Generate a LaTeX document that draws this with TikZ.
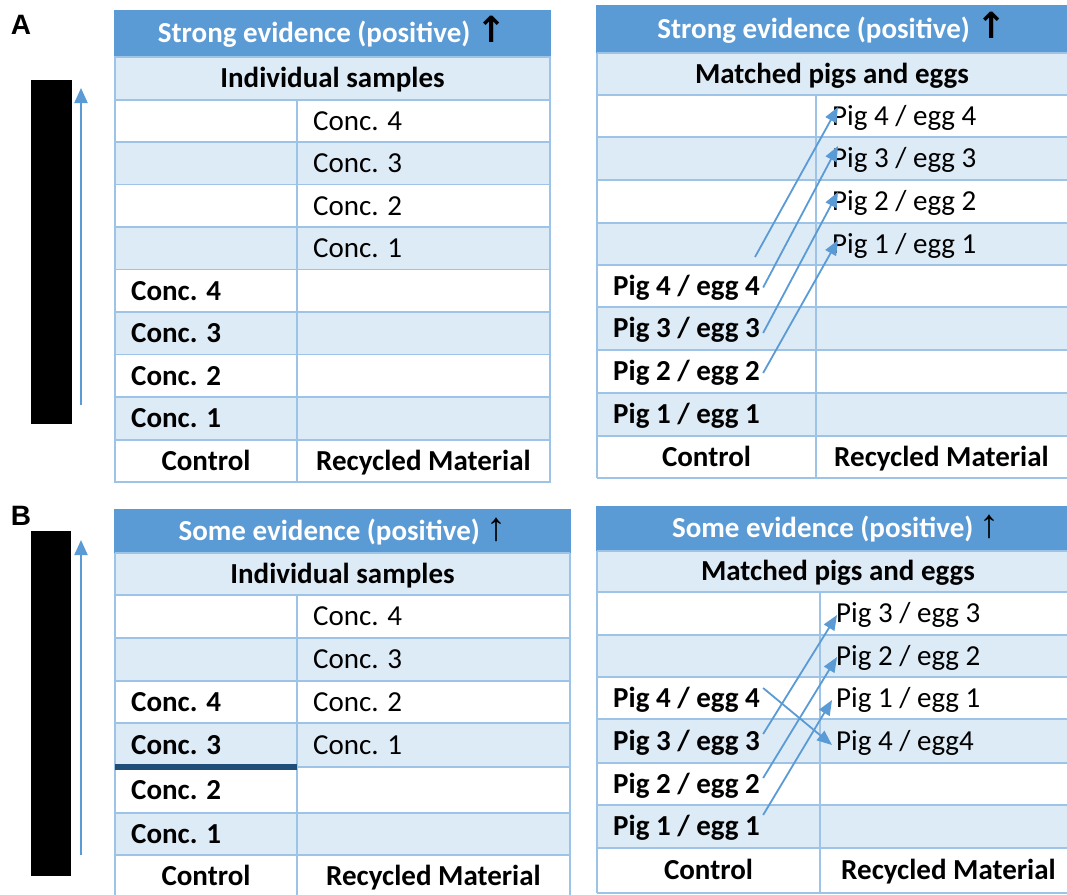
\documentclass[tikz,border=0pt]{standalone}
\usepackage{fontspec}
\setmainfont{Carlito}
\newfontfamily\arrfont{DejaVu Sans}
\newfontfamily\lblfont{Liberation Sans}
\usetikzlibrary{arrows.meta,calc}
\definecolor{hdrblue}{HTML}{5B9BD5}
\definecolor{rowshade}{HTML}{DDEBF7}
\definecolor{gridblue}{HTML}{9DC3E6}
\definecolor{darkblue}{HTML}{1F4E79}
\definecolor{arrblue}{HTML}{5B9BD5}
\newcommand\upA{{\color{black}\fontsize{36}{30}\selectfont\arrfont\bfseries ↑}}
\newcommand\upB{{\color{black}\fontsize{40}{30}\selectfont\lblfont ↑}}
\tikzset{
  cell/.style={inner sep=0pt, text=black, font=\fontsize{29}{32}\selectfont},
  lt/.style={cell, anchor=base west},
  blt/.style={cell, anchor=base west, font=\fontsize{29}{32}\selectfont\bfseries},
  ct/.style={cell, anchor=base, font=\fontsize{29}{32}\selectfont\bfseries},
  hd/.style={cell, anchor=base, text=white, font=\fontsize{29}{32}\selectfont\bfseries},
  panel/.style={inner sep=0pt, anchor=center, font=\fontsize{28}{30}\selectfont\lblfont\bfseries},
  gridline/.style={draw=gridblue, line width=1.6pt},
  link/.style={draw=arrblue, line width=1.8pt, -{Triangle[length=15pt,width=12pt]}},
  scalearrow/.style={draw=arrblue, line width=2pt, -{Triangle[length=15pt,width=13pt]}},
  bar/.style={fill=black}
}
\begin{document}
\begin{tikzpicture}[x=1pt,y=-1pt]
\useasboundingbox (0,0) rectangle (1067,894);
\fill[white] (0,0) rectangle (1067,894);

% ---------------- panel labels, bars and scale arrows
\node[panel] (lblA) at (21,25) {A};
\node[panel] (lblB) at (21,516) {B};
\fill[bar] (31,80) rectangle (72,424);
\fill[bar] (31,531) rectangle (71,876);
\coordinate (sAt) at (81,405);
\coordinate (sAh) at (81,88);
\coordinate (sBt) at (81,855);
\coordinate (sBh) at (81,540);
\draw[scalearrow] (sAt) -- (sAh);
\draw[scalearrow] (sBt) -- (sBh);

% ================= A left table
\fill[hdrblue] (114,10) rectangle (551,57);
\fill[rowshade] (115,57) rectangle (550,100);
\foreach \a/\b in {142/184.5,227/269.5,312/354.5,397/440}
  \fill[rowshade] (115,\a) rectangle (550,\b);
\foreach \y in {57,100,142,184.5,227,269.5,312,354.5,397,440}
  \draw[gridline] (115,\y) -- (550,\y);
\draw[gridline] (297,100) -- (297,482);
\draw[gridline] (115,57) rectangle (550,482);
\node[hd] (hAL) at (332.5,42.5) {Strong evidence (positive) \upA};
\node[ct] (sAL) at (332.5,87.5) {Individual samples};
\node[lt] (alr4) at (313,130) {Conc. 4};
\node[lt] (alr3) at (313,172.5) {Conc. 3};
\node[lt] (alr2) at (313,215) {Conc. 2};
\node[lt] (alr1) at (313,257.5) {Conc. 1};
\node[blt] (all4) at (131,300) {Conc. 4};
\node[blt] (all3) at (131,342.5) {Conc. 3};
\node[blt] (all2) at (131,385) {Conc. 2};
\node[blt] (all1) at (131,427.5) {Conc. 1};
\node[ct] (ctAL) at (206,470) {Control};
\node[ct] (rmAL) at (423.5,470) {Recycled Material};

% ================= A right table
\fill[hdrblue] (596,5) rectangle (1070,53);
\fill[rowshade] (597,53) rectangle (1070,95);
\foreach \a/\b in {137/180,223/265,307/350,393/436}
  \fill[rowshade] (597,\a) rectangle (1070,\b);
\foreach \y in {53,95,137,180,223,265,307,350,393,436,478}
  \draw[gridline] (597,\y) -- (1070,\y);
\draw[gridline] (816,95) -- (816,478);
\draw[gridline] (597,53) -- (597,478);
\node[hd] (hAR) at (832,38) {Strong evidence (positive) \upA};
\node[ct] (sAR) at (832,83) {Matched pigs and eggs};
\node[lt] (apr4) at (832,125) {Pig 4 / egg 4};
\node[lt] (apr3) at (832,167.5) {Pig 3 / egg 3};
\node[lt] (apr2) at (832,210.5) {Pig 2 / egg 2};
\node[lt] (apr1) at (832,253) {Pig 1 / egg 1};
\node[blt] (apl4) at (613,295) {Pig 4 / egg 4};
\node[blt] (apl3) at (613,337.5) {Pig 3 / egg 3};
\node[blt] (apl2) at (613,380.5) {Pig 2 / egg 2};
\node[blt] (apl1) at (613,423.5) {Pig 1 / egg 1};
\node[ct] (ctAR) at (706.5,466) {Control};
\node[ct] (rmAR) at (941.5,466) {Recycled Material};
\coordinate (a1tail) at (755,257);
\draw[link] (a1tail) -- ($(apr4.base west)+(6,-18)$);
\draw[link] ($(apl4.base east)+(3,-7.5)$) -- ($(apr3.base west)+(6,-21.5)$);
\draw[link] ($(apl3.base east)+(3,-4.5)$) -- ($(apr2.base west)+(6,-18.5)$);
\draw[link] ($(apl2.base east)+(3,-7.5)$) -- ($(apr1.base west)+(6,-13)$);

% ================= B left table
\fill[hdrblue] (114,509) rectangle (571,553);
\fill[rowshade] (115,553) rectangle (570,595);
\foreach \a/\b in {638/681,723/767,813/855}
  \fill[rowshade] (115,\a) rectangle (570,\b);
\foreach \y in {553,595,638,681,723,767,813,855}
  \draw[gridline] (115,\y) -- (570,\y);
\draw[gridline] (297,595) -- (297,898);
\draw[gridline] (115,553) -- (115,898);
\draw[gridline] (570,553) -- (570,898);
\draw[darkblue, line width=5.5pt] (115,767) -- (297,767);
\node[hd] (hBL) at (342.5,540) {Some evidence (positive) \upB};
\node[ct] (sBL) at (342.5,583) {Individual samples};
\node[lt] (blr4) at (313,625.5) {Conc. 4};
\node[lt] (blr3) at (313,668.5) {Conc. 3};
\node[lt] (blr2) at (313,711) {Conc. 2};
\node[lt] (blr1) at (313,754) {Conc. 1};
\node[blt] (bll4) at (131,711) {Conc. 4};
\node[blt] (bll3) at (131,754) {Conc. 3};
\node[blt] (bll2) at (131,799) {Conc. 2};
\node[blt] (bll1) at (131,843) {Conc. 1};
\node[ct] (ctBL) at (206,885.5) {Control};
\node[ct] (rmBL) at (433.5,885.5) {Recycled Material};

% ================= B right table
\fill[hdrblue] (596,506) rectangle (1070,551);
\fill[rowshade] (597,551) rectangle (1070,592);
\foreach \a/\b in {635/677,719/763,805/848}
  \fill[rowshade] (597,\a) rectangle (1070,\b);
\foreach \y in {551,592,635,677,719,763,805,848,893}
  \draw[gridline] (597,\y) -- (1070,\y);
\draw[gridline] (820,592) -- (820,893);
\draw[gridline] (597,551) -- (597,893);
\node[hd] (hBR) at (836,537.5) {Some evidence (positive) \upB};
\node[ct] (sBR) at (838,580.5) {Matched pigs and eggs};
\node[lt] (bpr3) at (836,622.5) {Pig 3 / egg 3};
\node[lt] (bpr2) at (836,665) {Pig 2 / egg 2};
\node[lt] (bpr1) at (836,707) {Pig 1 / egg 1};
\node[lt] (bpr4) at (836,750) {Pig 4 / egg4};
\node[blt] (bpl4) at (613,707) {Pig 4 / egg 4};
\node[blt] (bpl3) at (613,750) {Pig 3 / egg 3};
\node[blt] (bpl2) at (613,793) {Pig 2 / egg 2};
\node[blt] (bpl1) at (613,835.5) {Pig 1 / egg 1};
\node[ct] (ctBR) at (708.5,879.5) {Control};
\node[ct] (rmBR) at (948.5,879.5) {Recycled Material};
\draw[link] ($(bpl3.base east)+(3,-16)$) -- ($(bpr3.base west)+(1,-7.5)$);
\draw[link] ($(bpl2.base east)+(3,-15)$) -- ($(bpr2.base west)+(1,-8)$);
\draw[link] ($(bpl1.base east)+(3,-20.5)$) -- ($(bpr1.base west)+(-4,-7)$);
\draw[link] ($(bpl4.base east)+(3,-19)$) -- ($(bpr4.base west)+(-4,-5)$);
\end{tikzpicture}
\end{document}
